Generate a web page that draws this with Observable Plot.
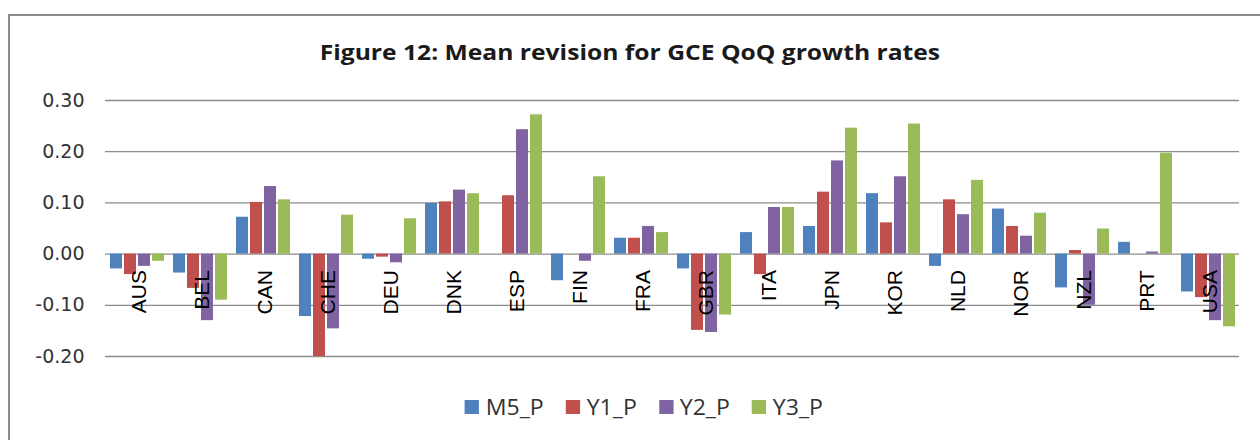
<!DOCTYPE html>
<html>
<head>
<meta charset="utf-8">
<script src="https://cdn.jsdelivr.net/npm/d3@7"></script>
<script src="https://cdn.jsdelivr.net/npm/@observablehq/plot@0.6"></script>
<style>
  html, body { margin: 0; padding: 0; background: #fff; width: 1260px; height: 440px; overflow: hidden; }
  #frame { position: absolute; left: 8px; top: 14px; width: 1300px; height: 480px;
           border-top: 2px solid #8c8c8c; border-left: 2px solid #8c8c8c; }
  #title { position: absolute; left: 0; top: 36px; width: 1260px; text-align: center;
           font-family: "Open Sans", sans-serif; font-weight: bold; font-size: 22px; color: #1a1a1a;
           transform: scaleX(1.12); transform-origin: 631px 0; }
  #chart { position: absolute; left: 0; top: 80px; }
  #legend { position: absolute; left: 0; top: 393px; width: 1260px; display: flex; justify-content: center;
            padding-left: 28px; box-sizing: border-box; font-family: "Open Sans", sans-serif; font-size: 21px; color: #333;
            transform: scaleX(1.1); transform-origin: 645px 0; }
  .item { display: flex; align-items: center; margin: 0 10px; }
  .sw { width: 13px; height: 14px; margin-right: 6px; }
</style>
</head>
<body>
<div id="frame"></div>
<div id="title">Figure 12: Mean revision for GCE QoQ growth rates</div>
<div id="chart"></div>
<div id="legend"></div>
<script>
const countries = ["AUS","BEL","CAN","CHE","DEU","DNK","ESP","FIN","FRA","GBR","ITA","JPN","KOR","NLD","NOR","NZL","PRT","USA"];
const seriesNames = ["M5_P","Y1_P","Y2_P","Y3_P"];
const seriesColors = ["#4F81BD","#C0504D","#8064A2","#9BBB59"];
const m5 = [-0.029,-0.037,0.072,-0.122,-0.010,0.099,0.000,-0.052,0.031,-0.029,0.042,0.054,0.118,-0.024,0.088,-0.066,0.023,-0.074];
const y1 = [-0.040,-0.067,0.101,-0.200,-0.006,0.102,0.114,0.000,0.031,-0.149,-0.040,0.121,0.061,0.106,0.054,0.007,0.000,-0.085];
const y2 = [-0.024,-0.130,0.132,-0.146,-0.017,0.125,0.243,-0.014,0.054,-0.153,0.091,0.182,0.151,0.077,0.035,-0.100,0.004,-0.130];
const y3 = [-0.014,-0.090,0.106,0.076,0.069,0.118,0.272,0.151,0.042,-0.119,0.091,0.246,0.254,0.144,0.080,0.049,0.197,-0.142];
const yTicks = [-0.2,-0.1,0,0.1,0.2,0.3];

const seriesValues = [m5, y1, y2, y3];
const data = countries.flatMap((c, i) => seriesNames.map((s, j) => ({country: c, series: s, value: seriesValues[j][i]})));

const chart = Plot.plot({
  width: 1260,
  height: 280,
  marginTop: 20,
  marginBottom: 4,
  marginLeft: 101,
  marginRight: 18,
  style: {fontFamily: "DejaVu Sans, sans-serif", fontSize: "19px", color: "#333", background: "transparent", overflow: "visible"},
  fx: {domain: countries, padding: 0, axis: null, label: null},
  x: {domain: seriesNames, paddingInner: 0.17, paddingOuter: 0.33, axis: null, label: null},
  y: {domain: [-0.2, 0.3], ticks: yTicks, tickFormat: d => d.toFixed(2), tickSize: 0, tickPadding: 21, label: null},
  color: {domain: seriesNames, range: seriesColors},
  marks: [
    Plot.ruleY(yTicks, {stroke: "#8c8c8c", strokeWidth: 1.3}),
    Plot.barY(data, {fx: "country", x: "series", y: "value", fill: "series"}),
    Plot.text(countries, {fx: d => d, y: () => 0, text: d => d, rotate: -90, textAnchor: "end", dy: 16, dx: 2,
      frameAnchor: "middle", fontFamily: "Liberation Sans, Arial, sans-serif", fontSize: 21, fill: "#000"})
  ]
});
document.getElementById("chart").appendChild(chart);

const legend = document.getElementById("legend");
seriesNames.forEach((s, i) => {
  const it = document.createElement("div");
  it.className = "item";
  const sw = document.createElement("div");
  sw.className = "sw";
  sw.style.background = seriesColors[i];
  const t = document.createElement("span");
  t.textContent = s;
  it.appendChild(sw); it.appendChild(t);
  legend.appendChild(it);
});
</script>
</body>
</html>
